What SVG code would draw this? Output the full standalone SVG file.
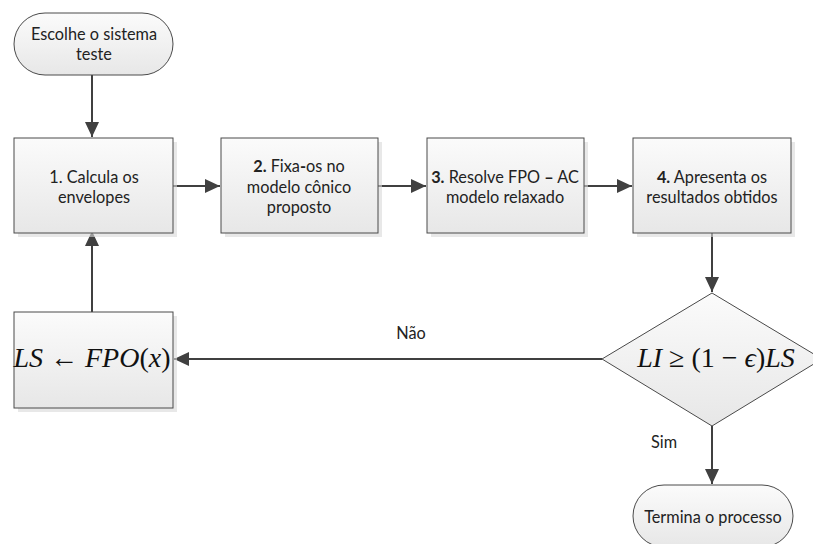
<svg xmlns="http://www.w3.org/2000/svg" width="813" height="544" viewBox="0 0 813 544">
<style>
.shape{fill:url(#g);stroke:#4a4a4a;stroke-width:1}
.shadow{fill:#d9d9d9;opacity:0.6}
.t{font-family:Lato,"Open Sans",sans-serif;font-size:16.3px;fill:#222;text-anchor:middle}
.m{font-family:"Liberation Serif","DejaVu Serif",serif;font-size:28px;fill:#111;text-anchor:middle}
.c{fill:none;stroke:#404040;stroke-width:2}
.b{font-weight:bold}
</style>
<defs>
<linearGradient id="g" x1="0" y1="0" x2="0" y2="1">
<stop offset="0" stop-color="#fbfbfb"/>
<stop offset="1" stop-color="#e7e7e7"/>
</linearGradient>
<marker id="ah" markerWidth="16" markerHeight="14" refX="15" refY="7" orient="auto" markerUnits="userSpaceOnUse">
<path d="M0,0 L15,7 L0,14 Z" fill="#404040"/>
</marker>
</defs>
<rect width="813" height="544" fill="#fff"/>

<g id="connectors">
<line class="c" x1="92" y1="75" x2="92" y2="137" marker-end="url(#ah)"/>
<line class="c" x1="173" y1="186" x2="220" y2="186" marker-end="url(#ah)"/>
<line class="c" x1="378" y1="186" x2="426" y2="186" marker-end="url(#ah)"/>
<line class="c" x1="584" y1="186" x2="632" y2="186" marker-end="url(#ah)"/>
<line class="c" x1="712" y1="233" x2="712" y2="292" marker-end="url(#ah)"/>
<line class="c" x1="602" y1="359" x2="174" y2="359" marker-end="url(#ah)"/>
<line class="c" x1="92" y1="312" x2="92" y2="231" marker-end="url(#ah)"/>
<line class="c" x1="712" y1="426" x2="712" y2="484" marker-end="url(#ah)"/>
<text class="t" x="411" y="339">Não</text>
<text class="t" x="664" y="448">Sim</text>
</g>

<g id="start">
<rect class="shape" x="14" y="13" width="159" height="62" rx="31" ry="31"/>
<text class="t" x="94" y="40">Escolhe o sistema</text>
<text class="t" x="94" y="60">teste</text>
</g>

<g id="n1">
<rect class="shadow" x="18" y="142" width="159" height="95"/>
<rect class="shape" x="14" y="138" width="159" height="95"/>
<text class="t" x="94" y="183">1. Calcula os</text>
<text class="t" x="94" y="203">envelopes</text>
</g>

<g id="n2">
<rect class="shadow" x="225" y="142" width="157" height="95"/>
<rect class="shape" x="221" y="138" width="157" height="95"/>
<text class="t" x="299" y="172"><tspan class="b">2.</tspan> Fixa<tspan class="b">-</tspan>os no</text>
<text class="t" x="299" y="193">modelo cônico</text>
<text class="t" x="299" y="213">proposto</text>
</g>

<g id="n3">
<rect class="shadow" x="431" y="142" width="157" height="95"/>
<rect class="shape" x="427" y="138" width="157" height="95"/>
<text class="t" x="505" y="183"><tspan class="b">3.</tspan> Resolve FPO <tspan class="b">–</tspan> AC</text>
<text class="t" x="505" y="203">modelo relaxado</text>
</g>

<g id="n4">
<rect class="shadow" x="637" y="142" width="158" height="95"/>
<rect class="shape" x="633" y="138" width="158" height="95"/>
<text class="t" x="712" y="183"><tspan class="b">4.</tspan> Apresenta os</text>
<text class="t" x="712" y="203">resultados obtidos</text>
</g>

<g id="update">
<rect class="shadow" x="18" y="316" width="159" height="96"/>
<rect class="shape" x="14" y="312" width="159" height="96"/>
<text class="m" x="92" y="367"><tspan font-style="italic">LS</tspan> ← <tspan font-style="italic">FPO</tspan>(<tspan font-style="italic">x</tspan>)</text>
</g>

<g id="decision">
<polygon class="shape" points="712,293 822,359 712,426 602,359"/>
<text class="m" x="716" y="367" font-size="30"><tspan font-style="italic">LI</tspan> ≥ (1 − <tspan font-style="italic">ϵ</tspan>)<tspan font-style="italic">LS</tspan></text>
</g>

<g id="end">
<rect class="shape" x="633" y="485" width="160" height="62" rx="31" ry="31"/>
<text class="t" x="713" y="523">Termina o processo</text>
</g>
</svg>
